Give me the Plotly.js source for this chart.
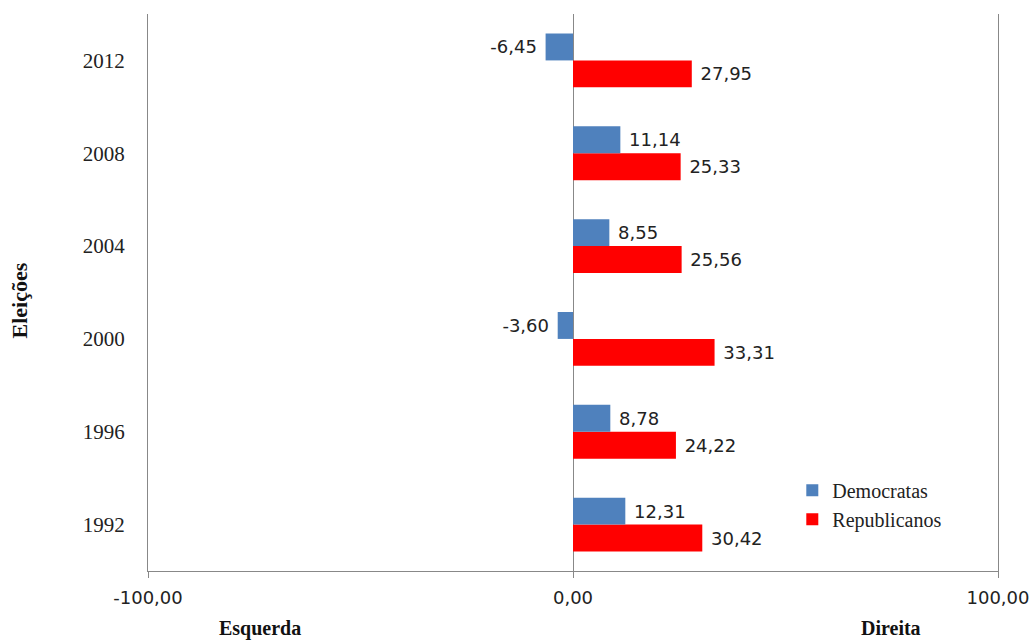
<!DOCTYPE html>
<html>
<head>
<meta charset="utf-8">
<script src="https://cdn.plot.ly/plotly-3.0.1.min.js"></script>
<style>html,body{margin:0;padding:0;background:#fff;}#chart{width:1033px;height:642px;}</style>
</head>
<body>
<div id="chart"></div>
<script>
var years = ['1992', '1996', '2000', '2004', '2008', '2012'];
var democratas = [12.31, 8.78, -3.60, 8.55, 11.14, -6.45];
var republicanos = [30.42, 24.22, 33.31, 25.56, 25.33, 27.95];
var xTicks = [-100, 0, 100];
var xTickLabels = ['-100,00', '0,00', '100,00'];

var labelFont = {family: 'DejaVu Sans, Liberation Sans, sans-serif', size: 18, color: '#222'};

function templates(vals) {
  return vals.map(function (v) { return v < 0 ? '%{x:.2f} ' : ' %{x:.2f}'; });
}

var traces = [
  {
    type: 'bar', orientation: 'h', name: 'Republicanos',
    y: years, x: republicanos,
    marker: {color: '#FF0000'},
    texttemplate: templates(republicanos), textposition: 'outside', cliponaxis: false,
    constraintext: 'none', textfont: labelFont, hoverinfo: 'x'
  },
  {
    type: 'bar', orientation: 'h', name: 'Democratas',
    y: years, x: democratas,
    marker: {color: '#4F81BD'},
    texttemplate: templates(democratas), textposition: 'outside', cliponaxis: false,
    constraintext: 'none', textfont: labelFont, hoverinfo: 'x'
  }
];

var layout = {
  width: 1033, height: 642,
  margin: {l: 148, r: 35, t: 14, b: 71},
  paper_bgcolor: '#fff', plot_bgcolor: '#fff',
  separators: ',.',
  barmode: 'group',
  bargap: 0.42,
  bargroupgap: 0,
  showlegend: true,
  legend: {
    traceorder: 'reversed',
    x: 0.758, y: 0.18, xanchor: 'left', yanchor: 'top',
    bgcolor: 'rgba(0,0,0,0)',
    font: {family: 'Liberation Serif, serif', size: 20, color: '#222'},
    itemwidth: 30, tracegroupgap: 0
  },
  xaxis: {
    range: [-100, 100],
    tickvals: xTicks, ticktext: xTickLabels,
    ticks: 'outside', ticklen: 6, tickcolor: '#888',
    showline: true, linecolor: '#888', linewidth: 1,
    showgrid: false,
    zeroline: true, zerolinecolor: '#888', zerolinewidth: 1,
    tickfont: {family: 'DejaVu Sans, Liberation Sans, sans-serif', size: 18, color: '#222'},
    ticklabelstandoff: 4,
    fixedrange: true
  },
  yaxis: {
    type: 'category',
    categoryorder: 'array', categoryarray: years,
    showline: true, mirror: true, linecolor: '#888', linewidth: 1,
    ticks: '', showgrid: false, zeroline: false,
    tickfont: {family: 'Liberation Serif, serif', size: 21, color: '#222'},
    ticklabelstandoff: 18,
    fixedrange: true
  },
  annotations: [
    {text: '<b>Eleições</b>', xref: 'paper', yref: 'paper', x: -0.151, y: 0.485,
     textangle: -90, showarrow: false, xanchor: 'center', yanchor: 'middle',
     font: {family: 'Liberation Serif, serif', size: 22, color: '#111'}},
    {text: '<b>Esquerda</b>', xref: 'paper', yref: 'paper', x: 0.132, y: -0.103,
     showarrow: false, xanchor: 'center', yanchor: 'middle',
     font: {family: 'Liberation Serif, serif', size: 20, color: '#111'}},
    {text: '<b>Direita</b>', xref: 'paper', yref: 'paper', x: 0.874, y: -0.103,
     showarrow: false, xanchor: 'center', yanchor: 'middle',
     font: {family: 'Liberation Serif, serif', size: 20, color: '#111'}}
  ]
};

Plotly.newPlot('chart', traces, layout, {displayModeBar: false, staticPlot: true});
</script>
</body>
</html>
